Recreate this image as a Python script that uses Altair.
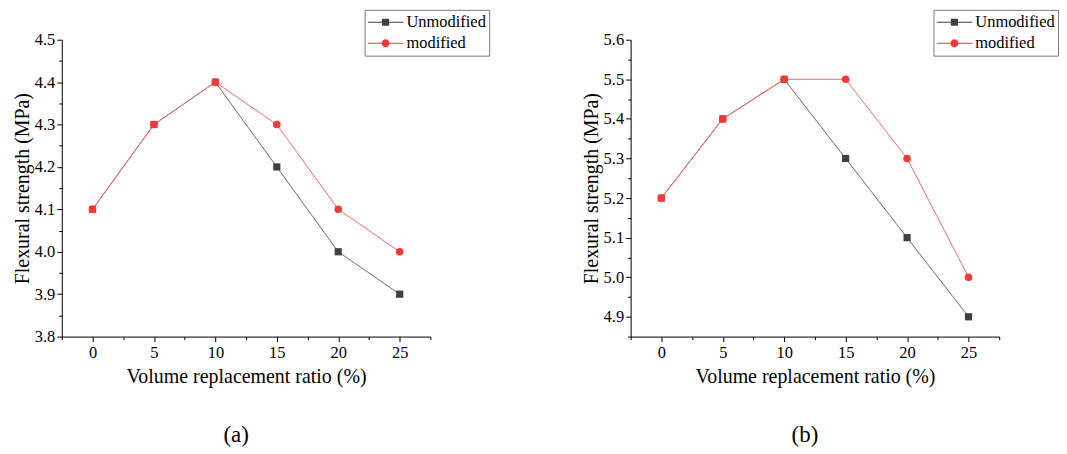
import altair as alt
import pandas as pd

# ---- data ----
ratios = [0, 5, 10, 15, 20, 25]
a_unmodified = [4.1, 4.3, 4.4, 4.2, 4.0, 3.9]
a_modified = [4.1, 4.3, 4.4, 4.3, 4.1, 4.0]
b_unmodified = [5.2, 5.4, 5.5, 5.3, 5.1, 4.9]
b_modified = [5.2, 5.4, 5.5, 5.5, 5.3, 5.0]
series_names = ["Unmodified", "modified"]

x_ticks = [0, 5, 10, 15, 20, 25]
x_minor = [-2.5, 2.5, 7.5, 12.5, 17.5, 22.5, 27.5]
a_yticks = [3.8, 3.9, 4.0, 4.1, 4.2, 4.3, 4.4, 4.5]
a_yminor = [3.85, 3.95, 4.05, 4.15, 4.25, 4.35, 4.45]
b_yticks = [4.9, 5.0, 5.1, 5.2, 5.3, 5.4, 5.5, 5.6]
b_yminor = [4.85, 4.95, 5.05, 5.15, 5.25, 5.35, 5.45, 5.55]

FONT = "Liberation Serif"
GRAY_LINE = "#6a6a6a"
GRAY_MARK = "#404040"
RED_LINE = "#f26a6a"
RED_MARK = "#ef3a3a"

SQ_PATH = ("M-1,-0.03H-0.2V0.03H-1Z M0.2,-0.03H1V0.03H0.2Z "
           "M-0.2,-0.2H0.2V0.2H-0.2Z")
CI_PATH = ("M-1,-0.03H-0.22V0.03H-1Z M0.22,-0.03H1V0.03H0.22Z "
           "M0.22,0A0.22,0.22,0,1,1,-0.22,0A0.22,0.22,0,1,1,0.22,0Z")

AX = dict(labelFont=FONT, titleFont=FONT, labelFontSize=16.5, titleFontSize=20,
          titleFontWeight="normal", labelColor="black", titleColor="black",
          domainColor="black", tickColor="black", grid=False,
          domainWidth=1, tickWidth=1)


def panel(unmod, mod, ydom, yticks, yminor, caption):
    df = pd.DataFrame({
        "ratio": ratios * 2,
        "value": list(unmod) + list(mod),
        "series": [series_names[0]] * len(ratios) + [series_names[1]] * len(ratios),
        "same": [u == m for u, m in zip(unmod, mod)] * 2,
    })
    xs = alt.Scale(domain=[-2.5, 27.5], nice=False, zero=False)
    ys = alt.Scale(domain=ydom, nice=False, zero=False)

    x_major = alt.X("ratio:Q", scale=xs, axis=alt.Axis(
        values=x_ticks, title="Volume replacement ratio (%)", format="d",
        tickSize=5, labelPadding=3, titlePadding=6, orient="bottom", **AX))
    y_major = alt.Y("value:Q", scale=ys, axis=alt.Axis(
        values=yticks, title="Flexural strength (MPa)", format=".1f",
        tickSize=5, labelPadding=2, titlePadding=2, orient="left", **AX))
    x_plain = alt.X("ratio:Q", scale=xs, axis=None)
    y_plain = alt.Y("value:Q", scale=ys, axis=None)

    base = alt.Chart(df)
    line_u = base.transform_filter(alt.datum.series == "Unmodified").mark_line(
        color=GRAY_LINE, strokeWidth=1).encode(x=x_major, y=y_major)
    line_m = base.transform_filter(alt.datum.series == "modified").mark_line(
        color=RED_LINE, strokeWidth=1).encode(x=x_plain, y=y_plain)
    pts_u = base.transform_filter(alt.datum.series == "Unmodified").mark_point(
        shape="square", filled=True, size=52, opacity=1).encode(
        x=x_plain, y=y_plain,
        color=alt.condition("datum.same", alt.value(RED_MARK), alt.value(GRAY_MARK)))
    pts_m = base.transform_filter(alt.datum.series == "modified").mark_point(
        shape="circle", filled=True, size=58, opacity=1, color=RED_MARK).encode(
        x=x_plain, y=y_plain)
    minor = base.mark_point(opacity=0, size=1).encode(
        x=alt.X("ratio:Q", scale=xs, axis=alt.Axis(
            values=x_minor, labels=False, domain=False, tickSize=3,
            tickColor="black", tickWidth=1, grid=False,
            title=None, orient="bottom")),
        y=alt.Y("value:Q", scale=ys, axis=alt.Axis(
            values=yminor, labels=False, domain=False, tickSize=3,
            tickColor="black", tickWidth=1, grid=False,
            title=None, orient="left")))
    leg = alt.Legend(title=None, orient="none", legendX=304, legendY=-30,
                     symbolSize=1296, clipHeight=19, rowPadding=2,
                     labelFont=FONT, labelFontSize=16.5, labelColor="black",
                     labelOffset=3, padding=3, strokeColor="#7a7a7a",
                     fillColor="white", symbolStrokeWidth=0)
    legend_layer = base.transform_filter("false").mark_point(
        filled=True, opacity=1).encode(
        color=alt.Color("series:N", scale=alt.Scale(
            domain=series_names, range=[GRAY_MARK, RED_MARK]), legend=leg),
        shape=alt.Shape("series:N", scale=alt.Scale(
            domain=series_names, range=[SQ_PATH, CI_PATH]), legend=leg))

    return alt.layer(line_u, line_m, pts_u, pts_m, minor, legend_layer).resolve_axis(
        x="independent", y="independent").properties(
        width=370, height=298,
        title=alt.TitleParams(caption, orient="bottom", font=FONT, fontSize=23,
                              fontWeight="normal", color="black", offset=37, dx=-10))


pa = panel(a_unmodified, a_modified, [3.8, 4.5], a_yticks, a_yminor, "(a)")
pb = panel(b_unmodified, b_modified, [4.85, 5.6], b_yticks, b_yminor, "(b)")

chart = alt.hconcat(pa, pb, spacing=91).resolve_scale(
    color="independent", shape="independent"
).resolve_legend(
    color="independent", shape="independent"
).properties(
    padding={"left": 4, "top": 0, "right": 0, "bottom": 0}
).configure(
    font=FONT,
    style={"guide-label": {"font": FONT}, "guide-title": {"font": FONT}}
).configure_axis(
    labelFont=FONT, titleFont=FONT
).configure_view(stroke=None)

chart.save("out.html", embed_options={"renderer": "svg", "actions": False})
